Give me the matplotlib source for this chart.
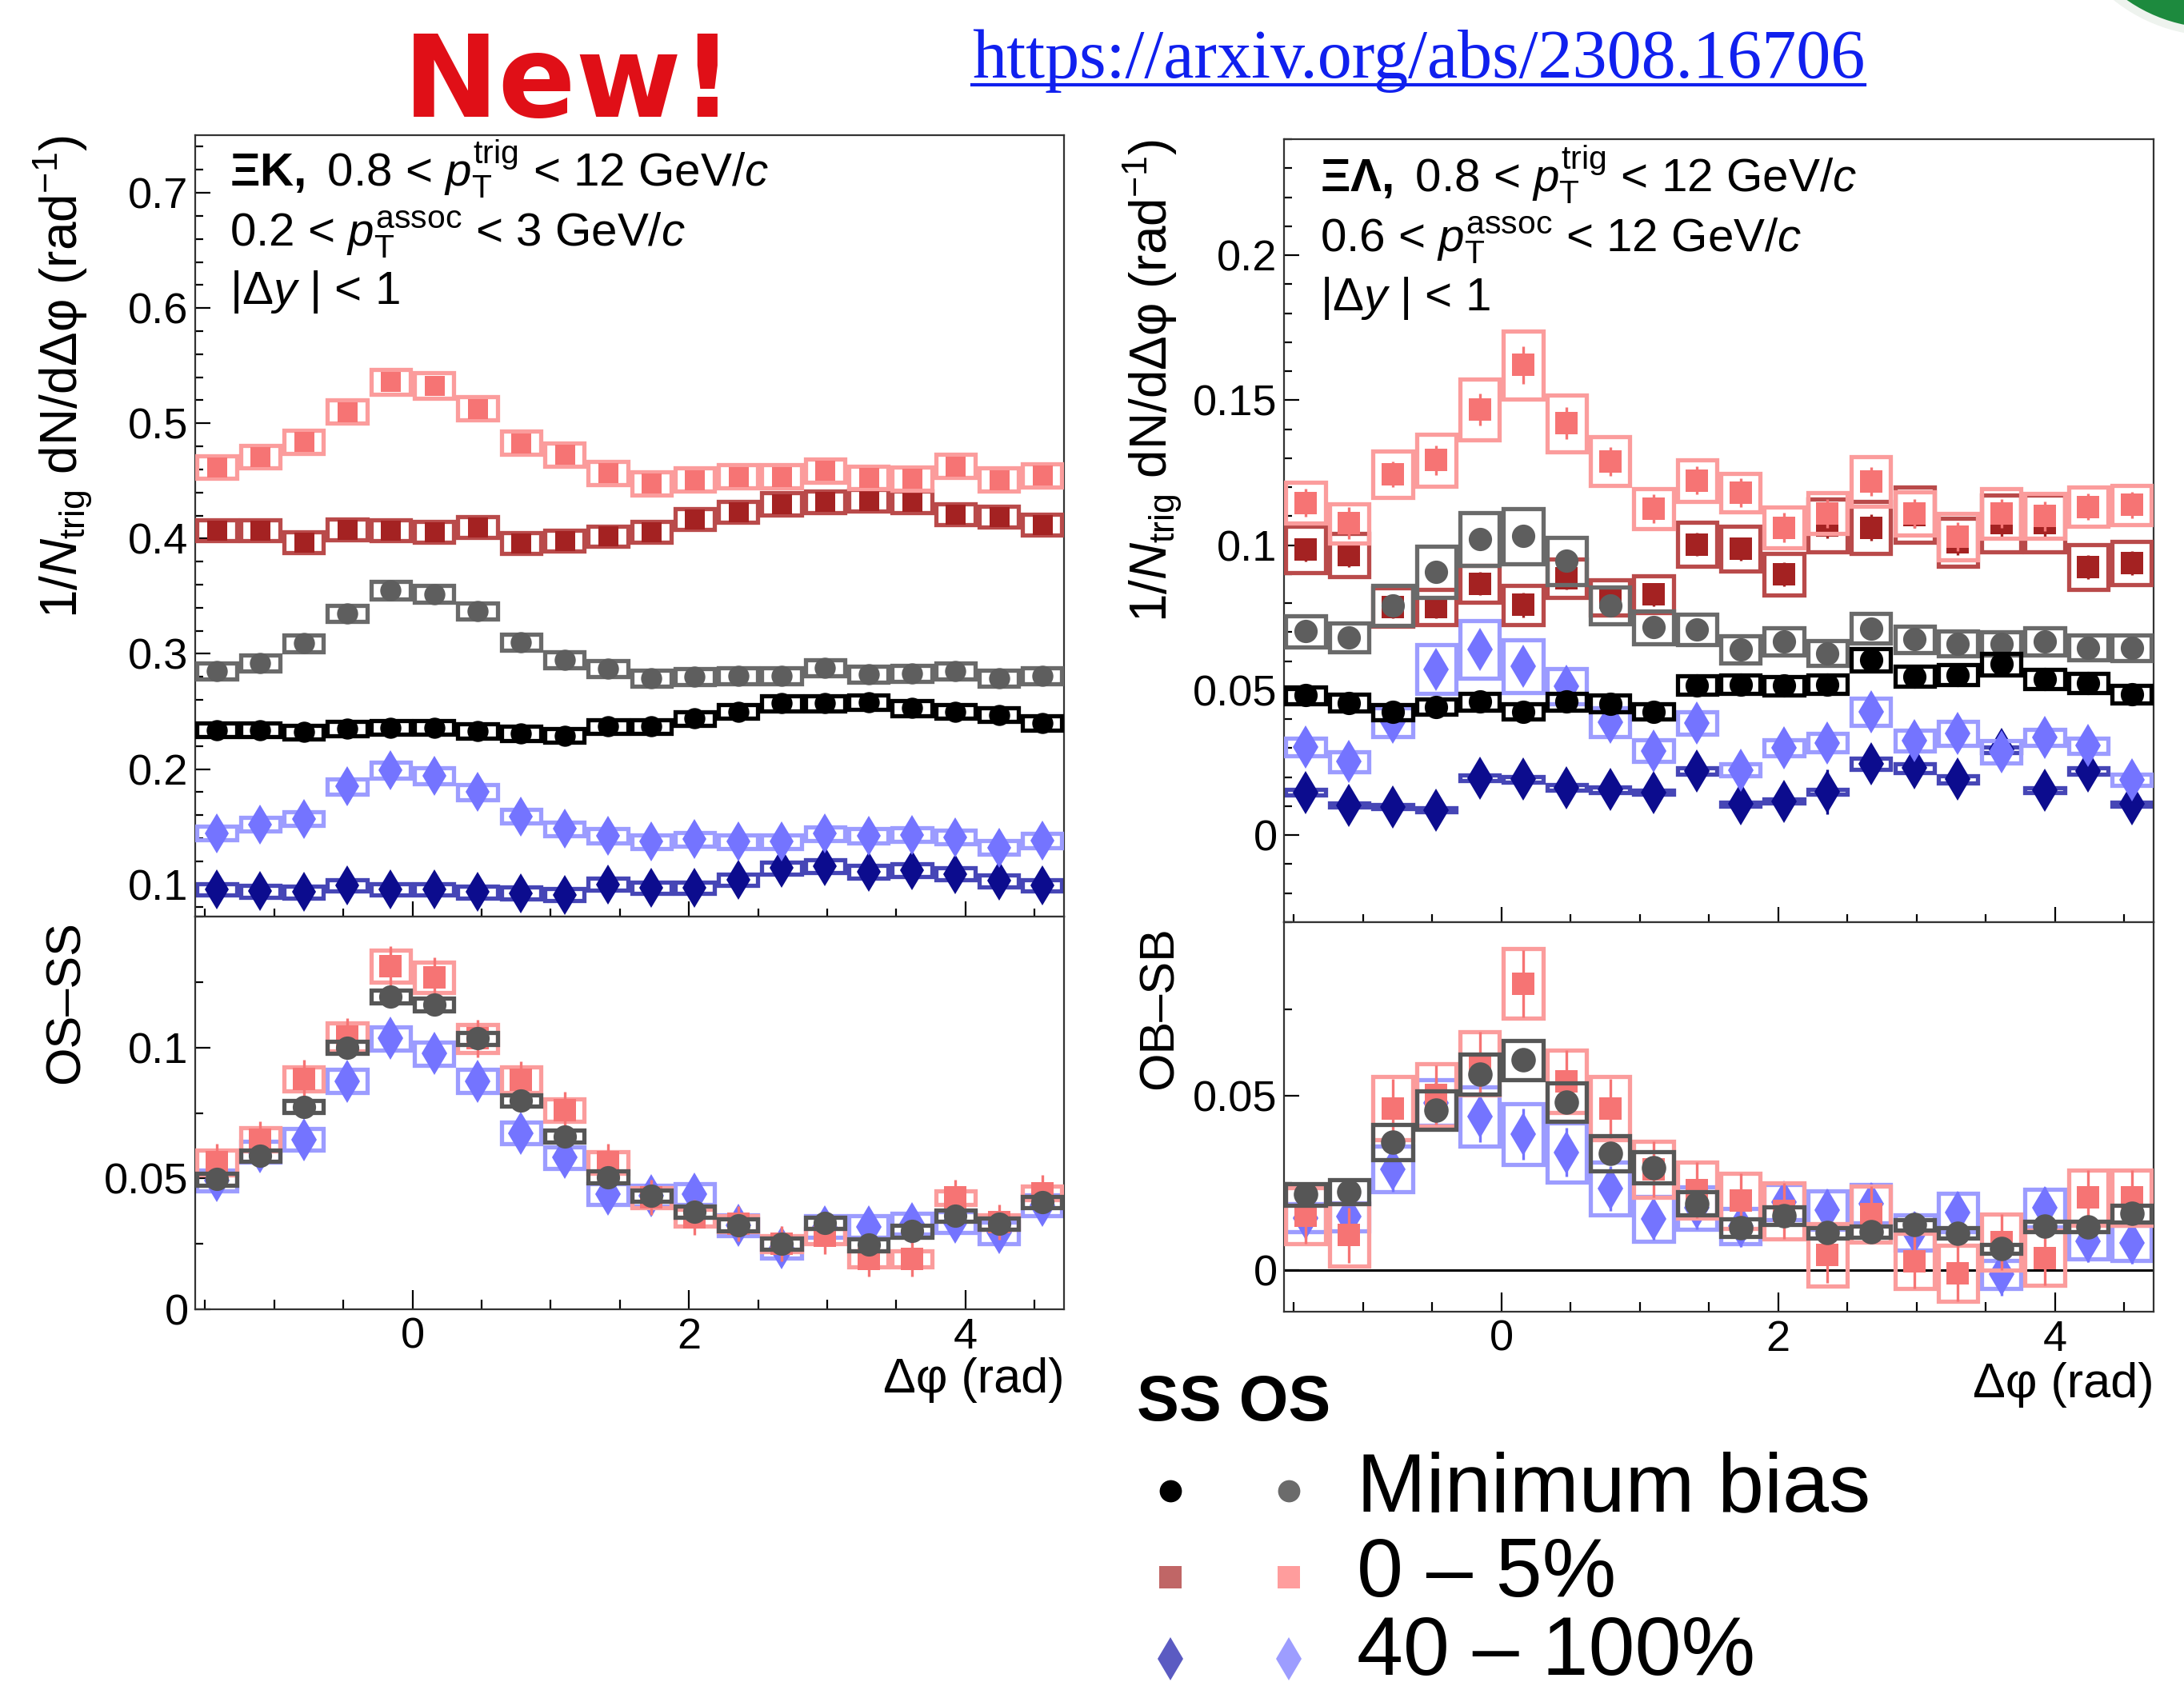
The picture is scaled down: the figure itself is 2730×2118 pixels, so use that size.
import numpy as np
import matplotlib
matplotlib.use("Agg")
import matplotlib.pyplot as plt
from matplotlib.patches import Rectangle, Ellipse
from matplotlib.lines import Line2D
from matplotlib.ticker import MultipleLocator, FixedLocator, FixedFormatter

# ---------------- data ----------------
dphi = [-1.414, -1.100, -0.785, -0.471, -0.157, 0.157, 0.471, 0.785, 1.100, 1.414,
        1.728, 2.042, 2.356, 2.670, 2.985, 3.299, 3.613, 3.927, 4.241, 4.555]
x_tick_vals = [0, 2, 4]
x_tick_labels = ["0", "2", "4"]

# Xi-K, upper panel
xk_os05 = [0.462, 0.471, 0.484, 0.510, 0.536, 0.533, 0.513, 0.483, 0.473, 0.457,
           0.448, 0.451, 0.454, 0.454, 0.459, 0.453, 0.452, 0.463, 0.451, 0.455]
xk_ss05 = [0.407, 0.407, 0.397, 0.408, 0.407, 0.406, 0.410, 0.396, 0.398, 0.402,
           0.406, 0.417, 0.423, 0.430, 0.432, 0.433, 0.432, 0.421, 0.419, 0.412]
xk_osmb = [0.285, 0.292, 0.309, 0.335, 0.355, 0.352, 0.337, 0.310, 0.295, 0.287,
           0.279, 0.280, 0.281, 0.281, 0.288, 0.282, 0.283, 0.285, 0.279, 0.281]
xk_ssmb = [0.234, 0.234, 0.232, 0.235, 0.236, 0.236, 0.233, 0.231, 0.229, 0.237,
           0.237, 0.244, 0.250, 0.257, 0.257, 0.258, 0.253, 0.250, 0.247, 0.240]
xk_os40 = [0.1445, 0.152, 0.157, 0.185, 0.199, 0.194, 0.180, 0.159, 0.148, 0.142,
           0.137, 0.139, 0.137, 0.137, 0.144, 0.142, 0.143, 0.141, 0.132, 0.138]
xk_ss40 = [0.0957, 0.094, 0.0933, 0.099, 0.0957, 0.0957, 0.0933, 0.0924, 0.091, 0.100,
           0.097, 0.097, 0.104, 0.114, 0.1156, 0.111, 0.112, 0.109, 0.103, 0.099]
xk_os05_sys = [0.010, 0.010, 0.010, 0.010, 0.011, 0.011, 0.010, 0.010, 0.010, 0.010,
               0.010, 0.010, 0.010, 0.010, 0.010, 0.010, 0.010, 0.010, 0.010, 0.010]
xk_ss05_sys = [0.009, 0.009, 0.009, 0.009, 0.009, 0.009, 0.009, 0.009, 0.009, 0.009,
               0.009, 0.009, 0.009, 0.0095, 0.0095, 0.0095, 0.0095, 0.009, 0.009, 0.009]
xk_osmb_sys = [0.007, 0.007, 0.007, 0.007, 0.0075, 0.0075, 0.007, 0.007, 0.007, 0.007,
               0.007, 0.007, 0.007, 0.007, 0.007, 0.007, 0.007, 0.007, 0.007, 0.007]
xk_ssmb_sys = [0.006, 0.006, 0.006, 0.006, 0.006, 0.006, 0.006, 0.006, 0.006, 0.006,
               0.006, 0.006, 0.006, 0.0065, 0.0065, 0.0065, 0.0065, 0.006, 0.006, 0.006]
xk_os40_sys = [0.006, 0.006, 0.006, 0.0065, 0.007, 0.007, 0.0065, 0.006, 0.006, 0.006,
               0.006, 0.006, 0.006, 0.006, 0.006, 0.006, 0.006, 0.006, 0.006, 0.006]
xk_ss40_sys = [0.005, 0.005, 0.005, 0.005, 0.005, 0.005, 0.005, 0.005, 0.005, 0.005,
               0.005, 0.005, 0.005, 0.0055, 0.0055, 0.0055, 0.0055, 0.005, 0.005, 0.005]
xk_stat = [0.003, 0.003, 0.003, 0.003, 0.003, 0.003, 0.003, 0.003, 0.003, 0.003,
           0.003, 0.003, 0.003, 0.003, 0.003, 0.003, 0.003, 0.003, 0.003, 0.003]

# Xi-K, lower panel (OS-SS)
xkd_05 = [0.0561, 0.0649, 0.0880, 0.1041, 0.1310, 0.1269, 0.1035, 0.0877, 0.0760, 0.0561,
          0.0427, 0.0351, 0.0327, 0.0251, 0.0280, 0.0193, 0.0193, 0.0427, 0.0333, 0.0444]
xkd_mb = [0.0497, 0.0587, 0.0774, 0.1000, 0.1195, 0.1164, 0.1035, 0.0798, 0.0661, 0.0505,
          0.0433, 0.0372, 0.0322, 0.0251, 0.0330, 0.0246, 0.0298, 0.0357, 0.0327, 0.0409]
xkd_40 = [0.0491, 0.0602, 0.0649, 0.0871, 0.1035, 0.0977, 0.0871, 0.0673, 0.0579, 0.0439,
          0.0433, 0.0439, 0.0322, 0.0234, 0.0316, 0.0316, 0.0327, 0.0333, 0.0292, 0.0398]
xkd_05_sys = [0.0047, 0.0044, 0.0047, 0.0053, 0.0061, 0.0058, 0.0054, 0.0050, 0.0043, 0.0042,
              0.0038, 0.0032, 0.0030, 0.0030, 0.0030, 0.0030, 0.0030, 0.0026, 0.0026, 0.0026]
xkd_mb_sys = [0.0022, 0.0022, 0.0022, 0.0023, 0.0024, 0.0024, 0.0023, 0.0022, 0.0022, 0.0022,
              0.0022, 0.0022, 0.0022, 0.0022, 0.0022, 0.0022, 0.0022, 0.0022, 0.0022, 0.0022]
xkd_40_sys = [0.0040, 0.0040, 0.0042, 0.0044, 0.0044, 0.0044, 0.0044, 0.0042, 0.0040, 0.0040,
              0.0040, 0.0040, 0.0040, 0.0040, 0.0040, 0.0040, 0.0040, 0.0040, 0.0040, 0.0040]
xkd_05_stat = [0.0070, 0.0070, 0.0072, 0.0072, 0.0076, 0.0076, 0.0072, 0.0070, 0.0070, 0.0070,
               0.0068, 0.0068, 0.0068, 0.0068, 0.0068, 0.0068, 0.0068, 0.0068, 0.0068, 0.0068]
xkd_mb_stat = [0.0030, 0.0030, 0.0030, 0.0030, 0.0030, 0.0030, 0.0030, 0.0030, 0.0030, 0.0030,
               0.0030, 0.0030, 0.0030, 0.0030, 0.0030, 0.0030, 0.0030, 0.0030, 0.0030, 0.0030]
xkd_40_stat = [0.0050, 0.0050, 0.0050, 0.0050, 0.0050, 0.0050, 0.0050, 0.0050, 0.0050, 0.0050,
               0.0050, 0.0050, 0.0050, 0.0050, 0.0050, 0.0050, 0.0050, 0.0050, 0.0050, 0.0050]

# Xi-Lambda, upper panel
xl_os05 = [0.1146, 0.1075, 0.1244, 0.1293, 0.1469, 0.1621, 0.1420, 0.1289, 0.1125, 0.1223,
           0.1181, 0.1061, 0.1110, 0.1219, 0.1110, 0.1030, 0.1110, 0.1100, 0.1132, 0.1139]
xl_ss05 = [0.0984, 0.0966, 0.0787, 0.0787, 0.0867, 0.0794, 0.0886, 0.0820, 0.0830, 0.1002,
           0.0987, 0.0900, 0.1068, 0.1061, 0.1104, 0.1010, 0.1075, 0.1075, 0.0924, 0.0938]
xl_osmb = [0.0703, 0.0682, 0.0792, 0.0907, 0.1022, 0.1031, 0.0946, 0.0792, 0.0717, 0.0710,
           0.0640, 0.0668, 0.0628, 0.0713, 0.0675, 0.0661, 0.0661, 0.0668, 0.0647, 0.0647]
xl_ssmb = [0.0482, 0.0457, 0.0425, 0.0443, 0.0460, 0.0426, 0.0460, 0.0454, 0.0426, 0.0517,
           0.0520, 0.0516, 0.0520, 0.0605, 0.0548, 0.0553, 0.0590, 0.0538, 0.0524, 0.0485]
xl_os40 = [0.0305, 0.0253, 0.0389, 0.0572, 0.0640, 0.0583, 0.0513, 0.0389, 0.0291, 0.0387,
           0.0225, 0.0302, 0.0319, 0.0425, 0.0326, 0.0351, 0.0288, 0.0337, 0.0309, 0.0190]
xl_ss40 = [0.0148, 0.0103, 0.0098, 0.0087, 0.0197, 0.0193, 0.0164, 0.0157, 0.0148, 0.0221,
           0.0108, 0.0117, 0.0150, 0.0246, 0.0232, 0.0193, 0.0295, 0.0155, 0.0221, 0.0108]
xl_os05_sys = [0.0070, 0.0067, 0.0080, 0.0090, 0.0105, 0.0117, 0.0098, 0.0084, 0.0069, 0.0072,
               0.0067, 0.0070, 0.0070, 0.0086, 0.0075, 0.0080, 0.0085, 0.0077, 0.0067, 0.0067]
xl_ss05_sys = [0.0080, 0.0074, 0.0067, 0.0060, 0.0063, 0.0067, 0.0067, 0.0060, 0.0063, 0.0076,
               0.0077, 0.0072, 0.0090, 0.0090, 0.0095, 0.0084, 0.0098, 0.0098, 0.0077, 0.0074]
xl_osmb_sys = [0.0053, 0.0050, 0.0069, 0.0088, 0.0091, 0.0095, 0.0081, 0.0063, 0.0056, 0.0053,
               0.0046, 0.0047, 0.0042, 0.0051, 0.0046, 0.0042, 0.0041, 0.0048, 0.0042, 0.0044]
xl_ssmb_sys = [0.0030, 0.0028, 0.0026, 0.0027, 0.0028, 0.0026, 0.0028, 0.0028, 0.0026, 0.0032,
               0.0032, 0.0032, 0.0032, 0.0038, 0.0034, 0.0035, 0.0037, 0.0034, 0.0033, 0.0030]
xl_os40_sys = [0.0030, 0.0034, 0.0050, 0.0084, 0.0100, 0.0091, 0.0061, 0.0049, 0.0037, 0.0039,
               0.0020, 0.0027, 0.0032, 0.0046, 0.0037, 0.0042, 0.0039, 0.0028, 0.0026, 0.0019]
xl_ss40_sys = [0.0009, 0.0007, 0.0007, 0.0007, 0.0010, 0.0010, 0.0009, 0.0009, 0.0008, 0.0010,
               0.0007, 0.0007, 0.0008, 0.0020, 0.0015, 0.0012, 0.0009, 0.0008, 0.0010, 0.0007]
xl_os05_stat = [0.0048, 0.0055, 0.0045, 0.0050, 0.0055, 0.0065, 0.0055, 0.0050, 0.0050, 0.0048,
                0.0050, 0.0050, 0.0050, 0.0050, 0.0050, 0.0050, 0.0050, 0.0050, 0.0045, 0.0045]
xl_ss05_stat = [0.0040, 0.0042, 0.0038, 0.0038, 0.0040, 0.0042, 0.0040, 0.0040, 0.0040, 0.0040,
                0.0040, 0.0042, 0.0045, 0.0045, 0.0045, 0.0045, 0.0045, 0.0045, 0.0042, 0.0042]
xl_osmb_stat = [0.0015, 0.0015, 0.0015, 0.0015, 0.0015, 0.0015, 0.0015, 0.0015, 0.0015, 0.0015,
                0.0015, 0.0015, 0.0015, 0.0015, 0.0015, 0.0015, 0.0015, 0.0015, 0.0015, 0.0015]
xl_ssmb_stat = [0.0010, 0.0010, 0.0010, 0.0010, 0.0010, 0.0010, 0.0010, 0.0010, 0.0010, 0.0010,
                0.0010, 0.0010, 0.0010, 0.0010, 0.0010, 0.0010, 0.0010, 0.0010, 0.0010, 0.0010]
xl_os40_stat = [0.0030, 0.0030, 0.0030, 0.0035, 0.0038, 0.0035, 0.0033, 0.0030, 0.0030, 0.0035,
                0.0033, 0.0030, 0.0030, 0.0033, 0.0030, 0.0030, 0.0030, 0.0030, 0.0030, 0.0030]
xl_ss40_stat = [0.0030, 0.0030, 0.0030, 0.0030, 0.0030, 0.0030, 0.0030, 0.0030, 0.0030, 0.0030,
                0.0045, 0.0030, 0.0077, 0.0030, 0.0030, 0.0030, 0.0030, 0.0030, 0.0030, 0.0030]

# Xi-Lambda, lower panel (OB-SB)
xld_05 = [0.0156, 0.0100, 0.0465, 0.0503, 0.0594, 0.0823, 0.0543, 0.0465, 0.0290, 0.0230,
          0.0199, 0.0170, 0.0043, 0.0160, 0.0026, -0.0009, 0.0080, 0.0035, 0.0208, 0.0208]
xld_mb = [0.0217, 0.0225, 0.0368, 0.0459, 0.0563, 0.0604, 0.0483, 0.0335, 0.0295, 0.0191,
          0.0121, 0.0156, 0.0107, 0.0110, 0.0130, 0.0106, 0.0061, 0.0126, 0.0124, 0.0162]
xld_40 = [0.0150, 0.0153, 0.0290, 0.0481, 0.0442, 0.0390, 0.0338, 0.0234, 0.0147, 0.0178,
          0.0126, 0.0195, 0.0173, 0.0190, 0.0108, 0.0165, -0.0013, 0.0178, 0.0082, 0.0078]
xld_05_sys = [0.0080, 0.0090, 0.0090, 0.0090, 0.0090, 0.0100, 0.0090, 0.0090, 0.0080, 0.0080,
              0.0080, 0.0080, 0.0090, 0.0080, 0.0080, 0.0080, 0.0080, 0.0080, 0.0080, 0.0080]
xld_mb_sys = [0.0032, 0.0035, 0.0050, 0.0055, 0.0058, 0.0056, 0.0055, 0.0050, 0.0045, 0.0033,
              0.0025, 0.0025, 0.0015, 0.0015, 0.0015, 0.0015, 0.0012, 0.0015, 0.0015, 0.0025]
xld_40_sys = [0.0040, 0.0040, 0.0065, 0.0065, 0.0085, 0.0087, 0.0085, 0.0075, 0.0065, 0.0060,
              0.0050, 0.0050, 0.0055, 0.0055, 0.0050, 0.0055, 0.0040, 0.0055, 0.0050, 0.0050]
xld_05_stat = [0.0080, 0.0080, 0.0085, 0.0085, 0.0090, 0.0097, 0.0090, 0.0085, 0.0080, 0.0080,
               0.0080, 0.0080, 0.0080, 0.0080, 0.0080, 0.0080, 0.0080, 0.0080, 0.0080, 0.0080]
xld_mb_stat = [0.0020, 0.0020, 0.0020, 0.0020, 0.0020, 0.0020, 0.0020, 0.0020, 0.0020, 0.0020,
               0.0020, 0.0020, 0.0020, 0.0020, 0.0020, 0.0020, 0.0020, 0.0020, 0.0020, 0.0020]
xld_40_stat = [0.0060, 0.0060, 0.0065, 0.0070, 0.0074, 0.0074, 0.0070, 0.0065, 0.0060, 0.0060,
               0.0060, 0.0060, 0.0060, 0.0060, 0.0060, 0.0060, 0.0060, 0.0060, 0.0060, 0.0060]

# axis ticks
xk_yticks = [0.1, 0.2, 0.3, 0.4, 0.5, 0.6, 0.7]
xk_ylabels = ["0.1", "0.2", "0.3", "0.4", "0.5", "0.6", "0.7"]
xkd_yticks = [0.0, 0.05, 0.1]
xkd_ylabels = ["0", "0.05", "0.1"]
xl_yticks = [0.0, 0.05, 0.1, 0.15, 0.2]
xl_ylabels = ["0", "0.05", "0.1", "0.15", "0.2"]
xld_yticks = [0.0, 0.05]
xld_ylabels = ["0", "0.05"]

# legend
leg_labels = ["Minimum bias", "0 \u2013 5%", "40 \u2013 100%"]
leg_markers = ["o", "s", "d"]
leg_ss_colors = ["#000000", "#c06666", "#5b5bc2"]
leg_os_colors = ["#6b6b6b", "#ff9d9d", "#9d9dff"]

# ---------------- style ----------------
plt.rcParams['font.family'] = ['Liberation Sans', 'DejaVu Sans']
plt.rcParams['mathtext.fontset'] = 'custom'
plt.rcParams['mathtext.rm'] = 'Liberation Sans'
plt.rcParams['mathtext.it'] = 'Liberation Sans:italic'
plt.rcParams['mathtext.bf'] = 'Liberation Sans:bold'
plt.rcParams['mathtext.sf'] = 'Liberation Sans'

C_OS05, B_OS05 = '#f67474', '#fb9c9c'
C_SS05, B_SS05 = '#a42222', '#b94a4a'
C_OSMB, B_OSMB = '#5e5e5e', '#6a6a6a'
C_SSMB, B_SSMB = '#000000', '#000000'
C_OS40, B_OS40 = '#7474ff', '#9c9cff'
C_SS40, B_SS40 = '#0c0c8e', '#4646b6'

W, H = 2730, 2118
fig = plt.figure(figsize=(W / 100, H / 100), dpi=100)
fig.patch.set_facecolor('white')


def fx(px):
    return px / W


def fy(py):
    return 1 - py / H


axLT = fig.add_axes([fx(244), fy(1146), (1330 - 244) / W, (1146 - 169) / H])
axLB = fig.add_axes([fx(244), fy(1637), (1330 - 244) / W, (1637 - 1146) / H])
axRT = fig.add_axes([fx(1605), fy(1153), (2692 - 1605) / W, (1153 - 174) / H])
axRB = fig.add_axes([fx(1605), fy(1640), (2692 - 1605) / W, (1640 - 1153) / H])

BOXW = 0.285
BOXLW = 3.8
ELW = 2.4


def series(ax, y, stat, sys, marker, mc, bc, ms, z):
    for xi, yi, si in zip(dphi, y, sys):
        ax.add_patch(Rectangle((xi - BOXW / 2, yi - si), BOXW, 2 * si, fill=False,
                               edgecolor=bc, linewidth=BOXLW, zorder=z))
    ax.errorbar(dphi, y, yerr=stat, fmt=marker, color=mc, ms=ms, mew=0,
                elinewidth=ELW, capsize=0, zorder=z + 0.5)


def frame(ax, ylim, yticks, ylabels, yminor, show_x, xmaj, xmin):
    ax.set_xlim(-np.pi / 2, 3 * np.pi / 2)
    ax.set_ylim(*ylim)
    ax.xaxis.set_major_locator(FixedLocator(x_tick_vals))
    ax.xaxis.set_minor_locator(MultipleLocator(0.5))
    ax.yaxis.set_major_locator(FixedLocator(yticks))
    ax.yaxis.set_major_formatter(FixedFormatter(ylabels))
    ax.yaxis.set_minor_locator(MultipleLocator(yminor))
    if show_x:
        ax.xaxis.set_major_formatter(FixedFormatter(x_tick_labels))
    ax.tick_params(axis='both', which='both', direction='in', top=False, right=False,
                   width=1.6, color='black')
    ax.tick_params(axis='y', which='major', length=14, pad=6, labelsize=39)
    ax.tick_params(axis='y', which='minor', length=7.5)
    ax.tick_params(axis='x', which='major', length=xmaj, pad=7, labelsize=39,
                   labelbottom=show_x)
    ax.tick_params(axis='x', which='minor', length=xmin)
    for s in ax.spines.values():
        s.set_linewidth(1.6)
        s.set_color('#333333')


YLAB = "1/$N_{\\mathrm{trig}}$ dN/d\u0394\u03c6 (rad$^{-1}$)"
XLAB = "\u0394\u03c6 (rad)"

# ---- left upper ----
frame(axLT, (0.072, 0.75), xk_yticks, xk_ylabels, 0.02, False, 14, 7)
series(axLT, xk_ss40, xk_stat, xk_ss40_sys, 'd', C_SS40, B_SS40, 25, 2)
series(axLT, xk_os40, xk_stat, xk_os40_sys, 'd', C_OS40, B_OS40, 25, 3)
series(axLT, xk_ssmb, xk_stat, xk_ssmb_sys, 'o', C_SSMB, B_SSMB, 19, 4)
series(axLT, xk_osmb, xk_stat, xk_osmb_sys, 'o', C_OSMB, B_OSMB, 19, 5)
series(axLT, xk_ss05, xk_stat, xk_ss05_sys, 's', C_SS05, B_SS05, 18, 6)
series(axLT, xk_os05, xk_stat, xk_os05_sys, 's', C_OS05, B_OS05, 18, 7)
axLT.set_ylabel(YLAB, fontsize=46, loc='top')
axLT.yaxis.set_label_coords(-0.116, 1.0)
axLT.text(0.040, 0.9345, r"$\mathbf{\Xi K,}$ 0.8 < $p_{\mathrm{T}}^{\mathrm{trig}}$ < 12 GeV/$c$",
          transform=axLT.transAxes, fontsize=42, va='baseline', ha='left')
axLT.text(0.040, 0.8577, r"0.2 < $p_{\mathrm{T}}^{\mathrm{assoc}}$ < 3 GeV/$c$",
          transform=axLT.transAxes, fontsize=42, va='baseline', ha='left')
axLT.text(0.040, 0.784, r"|$\Delta y$ | < 1",
          transform=axLT.transAxes, fontsize=42, va='baseline', ha='left')

# ---- left lower ----
frame(axLB, (0.0, 0.15), xkd_yticks, xkd_ylabels, 0.025, True, 17, 8.5)
series(axLB, xkd_40, xkd_40_stat, xkd_40_sys, 'd', C_OS40, B_OS40, 27, 2)
series(axLB, xkd_05, xkd_05_stat, xkd_05_sys, 's', C_OS05, B_OS05, 20, 3)
series(axLB, xkd_mb, xkd_mb_stat, xkd_mb_sys, 'o', '#565656', '#565656', 21, 4)
axLB.set_ylabel("OS\u2013SS", fontsize=44, loc='top')
axLB.yaxis.set_label_coords(-0.1215, 0.99)
axLB.set_xlabel(XLAB, fontsize=44, loc='right')
axLB.xaxis.set_label_coords(1.0, -0.122)

# ---- right upper ----
frame(axRT, (-0.03, 0.24), xl_yticks, xl_ylabels, 0.01, False, 14, 7)
series(axRT, xl_ss40, xl_ss40_stat, xl_ss40_sys, 'd', C_SS40, B_SS40, 28, 2)
series(axRT, xl_os40, xl_os40_stat, xl_os40_sys, 'd', C_OS40, B_OS40, 28, 3)
series(axRT, xl_ss05, xl_ss05_stat, xl_ss05_sys, 's', C_SS05, B_SS05, 20, 4)
series(axRT, xl_os05, xl_os05_stat, xl_os05_sys, 's', C_OS05, B_OS05, 20, 5)
series(axRT, xl_osmb, xl_osmb_stat, xl_osmb_sys, 'o', C_OSMB, B_OSMB, 21, 6)
series(axRT, xl_ssmb, xl_ssmb_stat, xl_ssmb_sys, 'o', C_SSMB, B_SSMB, 21, 7)
axRT.set_ylabel(YLAB, fontsize=46, loc='top')
axRT.yaxis.set_label_coords(-0.115, 1.0)
axRT.text(0.041, 0.9326, r"$\mathbf{\Xi\Lambda,}$ 0.8 < $p_{\mathrm{T}}^{\mathrm{trig}}$ < 12 GeV/$c$",
          transform=axRT.transAxes, fontsize=42, va='baseline', ha='left')
axRT.text(0.041, 0.856, r"0.6 < $p_{\mathrm{T}}^{\mathrm{assoc}}$ < 12 GeV/$c$",
          transform=axRT.transAxes, fontsize=42, va='baseline', ha='left')
axRT.text(0.041, 0.781, r"|$\Delta y$ | < 1",
          transform=axRT.transAxes, fontsize=42, va='baseline', ha='left')

# ---- right lower ----
frame(axRB, (-0.012, 0.1), xld_yticks, xld_ylabels, 0.025, True, 17, 8.5)
axRB.axhline(0, color='black', lw=2.2, zorder=1)
series(axRB, xld_40, xld_40_stat, xld_40_sys, 'd', C_OS40, B_OS40, 28, 2)
series(axRB, xld_05, xld_05_stat, xld_05_sys, 's', C_OS05, B_OS05, 20, 3)
series(axRB, xld_mb, xld_mb_stat, xld_mb_sys, 'o', '#565656', '#565656', 22, 4)
axRB.set_ylabel("OB\u2013SB", fontsize=44, loc='top')
axRB.yaxis.set_label_coords(-0.116, 0.99)
axRB.set_xlabel(XLAB, fontsize=44, loc='right')
axRB.xaxis.set_label_coords(1.0, -0.129)

# ---- decorations: "New!", link, logo ----
fig.text(fx(504), fy(146), "New!", color='#e00f17', fontsize=103, fontweight='bold',
         family='DejaVu Sans', ha='left', va='baseline')
url_color = '#1020ee'
url = fig.text(fx(1215), fy(97), "https://arxiv.org/abs/2308.16706", fontsize=62,
               family='Liberation Serif', color=url_color, ha='left', va='baseline')
renderer = fig.canvas.get_renderer()
bb = url.get_window_extent(renderer=renderer)
fig.add_artist(Line2D([bb.x0 / W, bb.x1 / W], [fy(106), fy(106)], transform=fig.transFigure,
                      color=url_color, lw=3))
fig.add_artist(Ellipse((fx(2770), fy(-160)), 2 * 205 / W, 2 * 205 / H, transform=fig.transFigure,
                       facecolor='#eef3ee', edgecolor='none'))
fig.add_artist(Ellipse((fx(2770), fy(-160)), 2 * 195 / W, 2 * 195 / H, transform=fig.transFigure,
                       facecolor='#1d8a3e', edgecolor='none'))

# ---- legend ----
fig.text(fx(1421), fy(1776), "SS OS", fontsize=57, fontweight='bold', ha='left', va='baseline')
row_marker_y = [1864, 1972, 2074]
row_text_y = [1889, 1996, 2094]
leg_ms = {'o': 20, 's': 20, 'd': 27}
for lab, mk, cs, co, ym, yt in zip(leg_labels, leg_markers, leg_ss_colors, leg_os_colors,
                                   row_marker_y, row_text_y):
    fig.add_artist(Line2D([fx(1463)], [fy(ym)], transform=fig.transFigure, marker=mk,
                          color=cs, ms=leg_ms[mk], mew=0, ls='none'))
    fig.add_artist(Line2D([fx(1611)], [fy(ym)], transform=fig.transFigure, marker=mk,
                          color=co, ms=leg_ms[mk], mew=0, ls='none'))
    fig.text(fx(1696), fy(yt), lab, fontsize=75, ha='left', va='baseline')

fig.savefig('out.png', dpi=100, facecolor='white')
